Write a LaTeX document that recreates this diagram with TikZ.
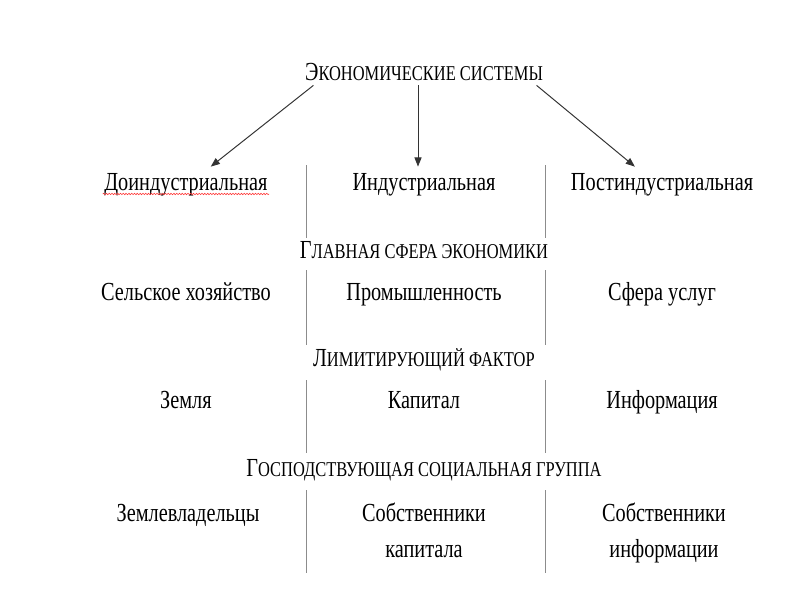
\documentclass[tikz,border=0pt]{standalone}
\usepackage{fontspec}
\setmainfont{Liberation Serif}[FakeStretch=0.78]
\usepackage{tikz}
\usetikzlibrary{positioning,arrows.meta,decorations.pathmorphing}

% first letter full size, the rest as small capitals
\newcommand{\capsc}[2]{#1{\fontsize{15}{17}\selectfont #2}}

\begin{document}
\begin{tikzpicture}[x=0.025cm,y=-0.025cm,node distance=5.95cm,on grid,
    every node/.style={font=\fontsize{18.5}{25.5}\selectfont,inner sep=1pt,
      text height=0.7em,text depth=0.25em},
    arr/.style={-{Triangle[length=6.5pt,width=5pt]},draw=black!80,line width=0.7pt},
    sep/.style={draw=black!45,line width=0.6pt},
    low/.style={anchor=north,align=center,text height=,text depth=}]
  \useasboundingbox (0,0) rectangle (800,600);

  \node (sys) at (424,77) {\capsc{Э}{КОНОМИЧЕСКИЕ СИСТЕМЫ}};

  \node (ind) at (424,187) {Индустриальная};
  \node (pre) [left=of ind] {Доиндустриальная};
  \node (post) [right=of ind] {Постиндустриальная};

  \node (h_sphere) at (424,255) {\capsc{Г}{ЛАВНАЯ СФЕРА ЭКОНОМИКИ}};
  \node (industry) at (424,297) {Промышленность};
  \node (agri) [left=of industry] {Сельское хозяйство};
  \node (services) [right=of industry] {Сфера услуг};

  \node (h_factor) at (424,363) {\capsc{Л}{ИМИТИРУЮЩИЙ ФАКТОР}};
  \node (capital) at (424,405) {Капитал};
  \node (land) [left=of capital] {Земля};
  \node (info) [right=of capital] {Информация};

  \node (h_group) at (424,473) {\capsc{Г}{ОСПОДСТВУЮЩАЯ СОЦИАЛЬНАЯ ГРУППА}};
  \node (owners_c) [low] at (424,501) {Собственники\\капитала};
  \node (landlords) at (188,518) {Землевладельцы};
  \node (owners_i) [low] at (664,501) {Собственники\\информации};

  \path
    ([xshift=0.25cm]sys.south west) edge[arr] ([xshift=0.62cm,yshift=0.3cm]pre.north)
    ([xshift=-0.15cm]sys.south) edge[arr] ([xshift=-0.15cm,yshift=0.3cm]ind.north)
    ([xshift=-0.2cm]sys.south east) edge[arr] ([xshift=-0.68cm,yshift=0.3cm]post.north);

  \foreach \x in {306,545}
    \draw[sep] (\x,165) -- (\x,238) (\x,270) -- (\x,345)
               (\x,380) -- (\x,453) (\x,490) -- (\x,573);

  % spell-check line
  \draw[red!80,line width=0.4pt,decorate,decoration={snake,amplitude=0.5pt,segment length=2pt}]
    ([yshift=1pt]pre.south west) -- ([yshift=1pt]pre.south east);
\end{tikzpicture}
\end{document}
